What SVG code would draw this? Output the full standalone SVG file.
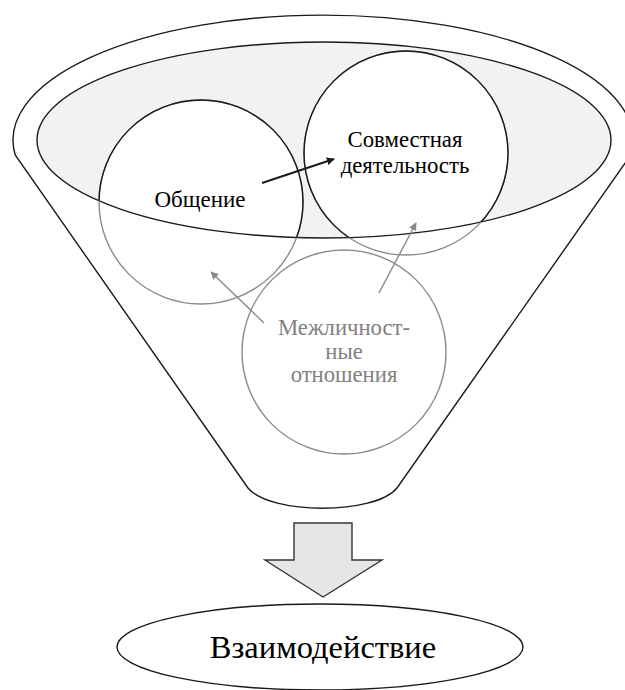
<svg xmlns="http://www.w3.org/2000/svg" width="625" height="690" viewBox="0 0 625 690">
<style>
.blk{fill:none;stroke:#1a1a1a;stroke-width:1.4}
.gry{fill:none;stroke:#8a8a8a;stroke-width:1.4}
text{font-family:'Liberation Serif','DejaVu Serif',serif;text-anchor:middle}
</style>
<defs>
<clipPath id="inner"><ellipse cx="324" cy="140" rx="287" ry="98"/></clipPath>
<marker id="ab" viewBox="0 0 10 10" refX="9" refY="5" markerWidth="8" markerHeight="8" markerUnits="userSpaceOnUse" orient="auto"><path d="M0,0 L10,5 L0,10 Z" fill="#1a1a1a"/></marker>
<marker id="ag" viewBox="0 0 10 10" refX="9" refY="5" markerWidth="8" markerHeight="8" markerUnits="userSpaceOnUse" orient="auto"><path d="M0,0 L10,5 L0,10 Z" fill="#8a8a8a"/></marker>
</defs>
<rect width="625" height="690" fill="#fff"/>
<g id="funnel">
<path class="blk" style="fill:#fff" d="M248,488 L15.2,155 A310 125 0 1 1 630.8,155 L397,488 C375,515 270,515 248,488 Z"/>
<ellipse cx="324" cy="140" rx="287" ry="98" fill="#f2f2f2"/>
</g>
<g id="node-obshchenie">
<circle cx="201" cy="202" r="102" fill="#fff"/>
</g>
<g id="node-sovmestnaya">
<circle cx="406" cy="153" r="102" fill="#fff"/>
</g>
<ellipse class="blk" cx="324" cy="140" rx="287" ry="98"/>
<g id="circles-strokes">
<circle class="gry" cx="201" cy="202" r="102"/>
<circle class="gry" cx="406" cy="153" r="102"/>
<g clip-path="url(#inner)">
<circle class="blk" cx="201" cy="202" r="102"/>
<circle class="blk" cx="406" cy="153" r="102"/>
</g>
<text x="200" y="207" font-size="23" fill="#000">Общение</text>
<text x="405" y="147" font-size="22.8" fill="#000">Совместная</text>
<text x="405" y="173" font-size="22.8" fill="#000">деятельность</text>
</g>
<g id="node-mezhlichnostnye">
<circle class="gry" cx="344" cy="352" r="102"/>
<text x="344" y="335" font-size="22.7" fill="#808080">Межличност-</text>
<text x="344" y="359" font-size="22.7" fill="#808080">ные</text>
<text x="344" y="382" font-size="22.7" fill="#808080">отношения</text>
</g>
<g id="connectors">
<line x1="262" y1="183" x2="334" y2="159" stroke="#1a1a1a" stroke-width="2" marker-end="url(#ab)"/>
<line x1="264" y1="323" x2="211" y2="272" stroke="#8a8a8a" stroke-width="1.4" marker-end="url(#ag)"/>
<line x1="379" y1="293" x2="416" y2="223" stroke="#8a8a8a" stroke-width="1.4" marker-end="url(#ag)"/>
<path d="M294,523 L352,523 L352,560 L382,560 L323,597 L265,560 L294,560 Z" fill="#e6e6e6" stroke="#333" stroke-width="1.4"/>
</g>
<g id="node-vzaimodeystvie">
<ellipse class="blk" cx="320" cy="647" rx="203" ry="43" style="fill:#fff"/>
<text x="323" y="658" font-size="32.5" fill="#000">Взаимодействие</text>
</g>
</svg>
